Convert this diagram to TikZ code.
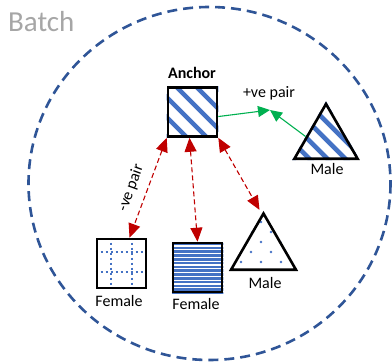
\documentclass[tikz,border=0pt]{standalone}
\usepackage{fontspec}
\setmainfont{Carlito}
\usetikzlibrary{arrows.meta,shapes.geometric,calc,backgrounds}
\definecolor{bluedash}{RGB}{47,85,151}
\definecolor{patblue}{RGB}{68,114,196}
\definecolor{redarr}{RGB}{192,0,0}
\definecolor{greenarr}{RGB}{0,176,80}
\definecolor{batchgray}{RGB}{166,166,166}
\begin{document}
\begin{tikzpicture}[x=1pt,y=-1pt,
  lbl/.style={font=\fontsize{16}{18}\selectfont, inner sep=0pt},
  sq/.style={draw=black, line width=2.6pt, minimum width=49pt, minimum height=49pt, inner sep=0pt},
  tri/.style={draw=black, line width=2.6pt, regular polygon, regular polygon sides=3, inner sep=0pt},
  posarrow/.style={draw=greenarr, line width=1.1pt, -{Triangle[length=12pt,width=11pt]}},
  negarrow/.style={draw=redarr, line width=1.1pt, dash pattern=on 5pt off 3pt,
     {Triangle[length=14pt,width=12pt]}-{Triangle[length=14pt,width=12pt]}},
  stripe/.style={draw=patblue, line width=4.5pt},
  hstripe/.style={draw=patblue, line width=2.6pt},
  dotline/.style={draw=patblue, line width=2pt, dash pattern=on 2pt off 3pt},
  dotmark/.style={fill=patblue}]
\useasboundingbox (0,0) rectangle (392,363);

% batch circle
\draw[bluedash, line width=2.6pt, dash pattern=on 10pt off 6pt] (209.5,183.5) ellipse [x radius=181, y radius=176.5];
\node[anchor=base west, text=batchgray, font=\fontsize{29}{32}\selectfont, inner sep=0pt] (batch) at (8,32) {Batch};

% shapes
\node[sq] (anchor) at (192.5,112) {};
\node[sq] (f1) at (121.5,263.5) {};
\node[sq] (f2) at (197.5,267.5) {};
\node[tri, minimum size=73pt] (m1) at (326,140.5) {};
\node[tri, minimum size=75pt] (m2) at (263.5,251) {};

% patterns
\begin{scope}[on background layer]
  \begin{scope}
    \clip (anchor.south west) rectangle (anchor.north east);
    \foreach \t in {-71,-51,...,89}
      \draw[stripe] ($(anchor.center)+(\t-45,-45)$) -- ++(90,90);
  \end{scope}
  \begin{scope}
    \clip (m1.corner 1) -- (m1.corner 2) -- (m1.corner 3) -- cycle;
    \foreach \t in {-71,-53,...,50}
      \draw[stripe, line width=4.6pt] ($(m1.center)+(\t-50,-50)$) -- ++(100,100);
  \end{scope}
  \begin{scope}
    \clip (f1.south west) rectangle (f1.north east);
    \draw[dotline] ($(f1.north)+(-10.5,0)$) -- ($(f1.south)+(-10.5,0)$);
    \draw[dotline] ($(f1.north)+(10,0)$) -- ($(f1.south)+(10,0)$);
    \draw[dotline] ($(f1.west)+(0,-11)$) -- ($(f1.east)+(0,-11)$);
    \draw[dotline] ($(f1.west)+(0,8.5)$) -- ($(f1.east)+(0,8.5)$);
  \end{scope}
  \begin{scope}
    \clip (f2.south west) rectangle (f2.north east);
    \foreach \i in {0,...,13}
      \draw[hstripe] ($(f2.north west)+(0,2.5+\i*3.8)$) -- ++(60,0);
  \end{scope}
  \begin{scope}
    \clip (m2.corner 1) -- (m2.corner 2) -- (m2.corner 3) -- cycle;
    \foreach \y in {222,242,262}
      \foreach \x in {221,241,...,301}
        \fill[dotmark] (\x,\y) circle (1.3pt);
    \foreach \y in {232,252}
      \foreach \x in {231,251,...,291}
        \fill[dotmark] (\x,\y) circle (1.3pt);
  \end{scope}
\end{scope}

% labels
\node[lbl, font={\fontsize{16}{18}\selectfont\bfseries}] (anchorlbl) at (192,73) {Anchor};
\node[lbl] (m1lbl) at (327,169) {Male};
\node[lbl] (f1lbl) at (119,301) {Female};
\node[lbl] (f2lbl) at (196,304) {Female};
\node[lbl] (m2lbl) at (265,283) {Male};
\node[lbl] (poslbl) at (269,93) {+ve pair};
\node[lbl, rotate=70] (neglbl) at (131,188) {-ve pair};

% connectors
\coordinate (meet) at (270,110);
\draw[posarrow] (anchor.-10) -- (meet);
\draw[posarrow] ($(m1.corner 1)!0.6!(m1.corner 2)$) -- (meet);
\draw[negarrow] (anchor.south west) -- ($(f1.north)+(8,0)$);
\draw[negarrow] ($(anchor.south)+(-3,0)$) -- (f2.north);
\draw[negarrow] (anchor.south east) -- ($(m2.corner 1)+(-4,-1)$);
\end{tikzpicture}
\end{document}
